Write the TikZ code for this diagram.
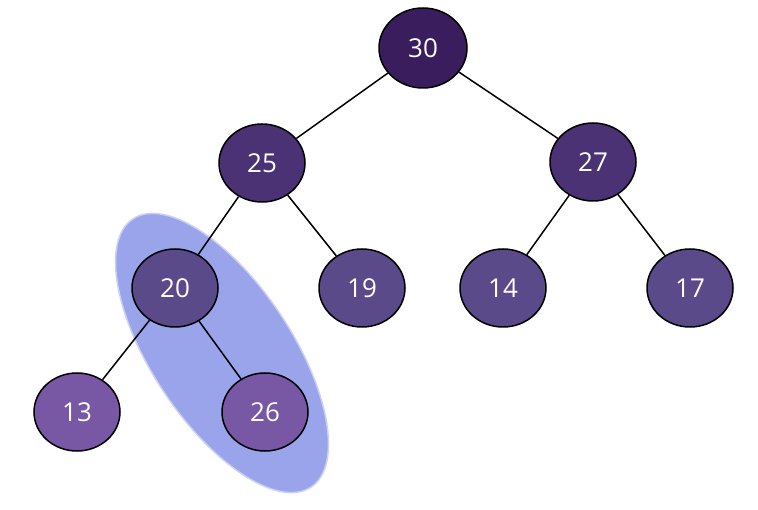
\documentclass[tikz,border=0pt]{standalone}
\usepackage{fontspec}
\setmainfont{Open Sans}
\usepackage{tikz}
\usetikzlibrary{shapes.geometric}

\definecolor{rootc}{HTML}{3A1D5C}
\definecolor{levelb}{HTML}{4A3275}
\definecolor{levelc}{HTML}{5B4A8A}
\definecolor{leafc}{HTML}{7857A5}
\definecolor{markc}{HTML}{9AA4EA}

\begin{document}
\begin{tikzpicture}[x=1pt, y=-1pt,
	heapnode/.style={ellipse, draw=black, line width=1.5pt, minimum width=86pt, minimum height=78pt, inner sep=0pt, text=white, font=\fontsize{26}{30}\selectfont},
	edge/.style={black, line width=1.5pt}]
\useasboundingbox (0,0) rectangle (758,510);
\filldraw[fill=markc, draw=markc!50, line width=1.5pt](222,353) ellipse[x radius=70, y radius=161, rotate=33.6];
\node[heapnode, fill=rootc, minimum width=88pt, minimum height=80pt](n30) at (423,48){30};
\node[heapnode, fill=levelb](n25) at (262,163){25};
\node[heapnode, fill=levelb](n27) at (593,162){27};
\node[heapnode, fill=levelc](n20) at (175,288){20};
\node[heapnode, fill=levelc](n19) at (362,288){19};
\node[heapnode, fill=levelc](n14) at (503,288){14};
\node[heapnode, fill=levelc](n17) at (690,288){17};
\node[heapnode, fill=leafc](n13) at (77,412){13};
\node[heapnode, fill=leafc](n26) at (265,412){26};
\foreach \a/\b in {n30/n25,n30/n27,n25/n20,n25/n19,n27/n14,n27/n17,n20/n13,n20/n26}{
	\draw[edge](\a)--(\b);
}
\end{tikzpicture}
\end{document}
